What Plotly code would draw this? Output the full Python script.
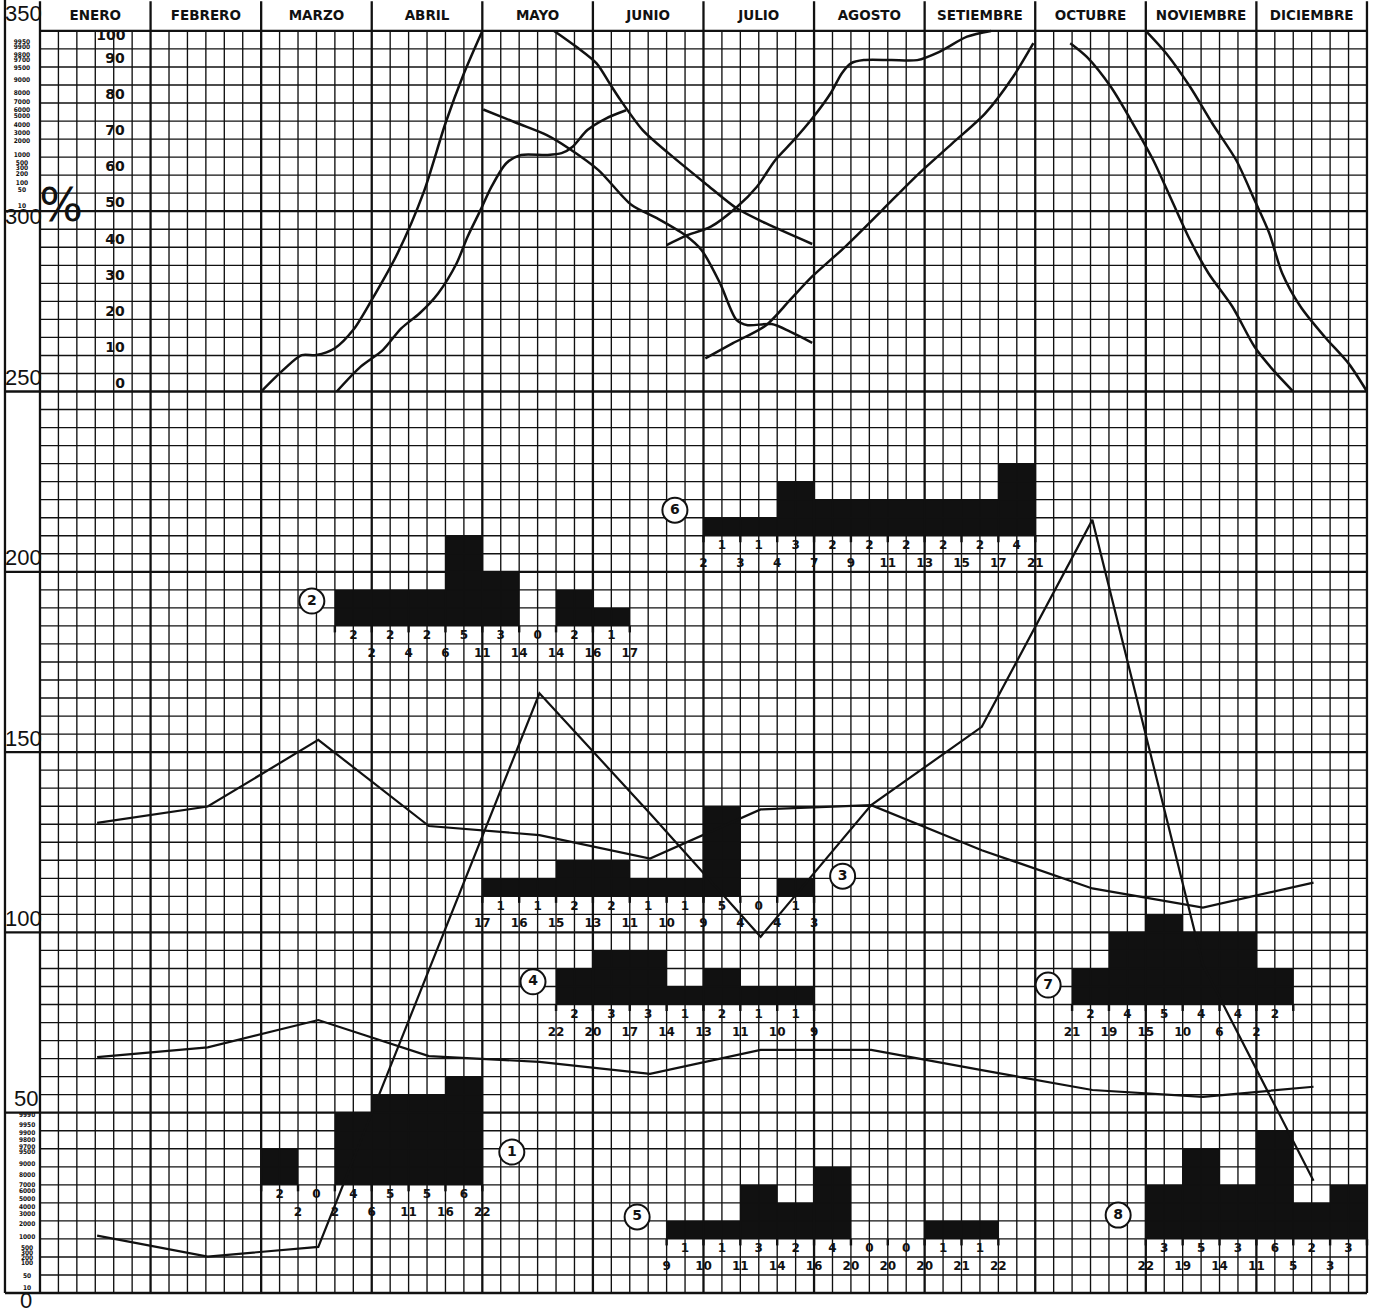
import plotly.graph_objects as go

# ---------------- DATA ----------------
MONTHS = ["ENERO", "FEBRERO", "MARZO", "ABRIL", "MAYO", "JUNIO",
          "JULIO", "AGOSTO", "SETIEMBRE", "OCTUBRE", "NOVIEMBRE", "DICIEMBRE"]

# main left scale
LEFT_SCALE = [350, 300, 250, 200, 150, 100, 50, 0]
# percentage scale (upper band)
PCT_TICKS = [100, 90, 80, 70, 60, 50, 40, 30, 20, 10, 0]

# probability-type scale labels (upper band, left column)
PROB_TOP_LABELS = ["9950", "9900", "9800", "9700", "9500", "9000", "8000", "7000", "6000",
                   "5000", "4000", "3000", "2000", "1000", "500", "300", "200", "100", "50", "10"]
PROB_TOP_POS = [346.9, 345.5, 343.3, 341.7, 339.5, 336.4, 332.8, 330.3, 328.1,
                326.2, 323.9, 321.7, 319.5, 315.6, 313.4, 312.0, 310.3, 307.8, 305.9, 301.4]
# probability-type scale labels (lower band, left column)
PROB_BOT_LABELS = ["9990", "9950", "9900", "9800", "9700", "9500", "9000", "8000", "7000", "6000",
                   "5000", "4000", "3000", "2000", "1000", "500", "300", "200", "100", "50", "10"]
PROB_BOT_POS = [49.4, 46.6, 44.4, 42.2, 40.5, 39.1, 35.8, 32.7, 29.9, 28.3,
                26.1, 23.8, 21.9, 18.9, 15.5, 12.5, 11.1, 9.7, 8.3, 4.7, 1.4]

# cumulative percentage curves (x in pentads, 6 per month; y in %)
CURVE_A_X = [12.0, 13.2, 14.2, 15.0, 16.0, 17.0, 18.0, 19.4, 20.8, 22.0, 23.0, 24.0]
CURVE_A_Y = [0, 6.0, 10.1, 10.1, 12.0, 17.1, 25.4, 38.3, 55.0, 74.4, 88.2, 100]

CURVE_B_X = [16.1, 17.4, 18.6, 19.6, 20.6, 21.6, 22.6, 23.2, 23.9, 24.5, 25.3, 26.1,
             27.5, 28.3, 28.9, 29.7, 30.7, 31.8]
CURVE_B_Y = [0, 6.9, 11.5, 17.5, 21.7, 27.2, 35.5, 42.9, 50.3, 56.8, 63.3, 65.6,
             65.6, 66.1, 67.9, 72.5, 75.7, 78.0]

CURVE_C_X = [24.05, 25.9, 27.5, 28.7, 30.3, 32.1, 33.5, 35.0, 35.9, 36.9, 37.8, 38.4,
             39.7, 40.7, 41.9]
CURVE_C_Y = [78.2, 74.4, 71.1, 67.4, 61.4, 51.7, 48.0, 43.4, 39.2, 30.0, 19.8, 18.4,
             18.7, 16.6, 13.5]

CURVE_D_X = [27.9, 29.1, 30.2, 30.9, 31.5, 32.7, 34.1, 36.1, 37.8, 39.4, 41.9]
CURVE_D_Y = [100, 95.6, 91.0, 85.5, 80.8, 72.5, 66.1, 57.7, 50.8, 46.6, 40.9]

CURVE_E_X = [34.0, 35.0, 36.4, 37.8, 38.9, 39.9, 40.9, 41.9, 42.9, 43.5, 44.0, 44.7,
             46.2, 47.6, 48.8, 50.3, 51.6]
CURVE_E_Y = [40.6, 43.1, 45.7, 51.1, 56.8, 64.2, 69.7, 75.7, 82.7, 88.2, 91.0, 91.9,
             91.9, 91.9, 94.2, 98.4, 100]

CURVE_F_X = [36.1, 37.6, 39.4, 40.7, 41.9, 43.7, 45.7, 47.7, 49.5, 51.3, 52.8, 53.9]
CURVE_F_Y = [9.2, 13.4, 18.4, 25.4, 31.9, 40.2, 50.3, 60.5, 68.8, 77.2, 87.3, 96.6]

CURVE_G_X = [55.9, 56.8, 58.1, 59.4, 60.4, 61.4, 62.4, 63.4, 64.7, 65.9, 66.9, 68.0]
CURVE_G_Y = [96.6, 92.8, 84.5, 73.4, 64.2, 53.1, 42.0, 32.8, 23.5, 12.4, 6.0, 0]

CURVE_H_X = [60.0, 61.1, 62.4, 63.6, 64.9, 65.9, 66.7, 67.4, 68.4, 69.7, 71.0, 72.0]
CURVE_H_Y = [100, 93.8, 84.5, 74.4, 64.2, 53.1, 43.9, 32.8, 23.5, 15.2, 7.8, 0]

# monthly polylines (main scale)
LINE_1 = [130.4, 134.9, 153.4, 129.5, 127.0, 120.5, 134.1, 135.3, 122.8, 112.2, 106.9, 113.8]
LINE_2 = [65.4, 68.1, 75.7, 65.7, 64.1, 60.8, 67.4, 67.4, 61.8, 56.3, 54.4, 57.2]
LINE_3 = [15.9, 10.1, 12.8, 89.5, 166.3, 133.0, 98.8, 135.3, 157.0, 214.4, 91.0, 31.1]

# histograms: counts per bar and cumulative labels
HIST1_COUNTS = [2, 0, 4, 5, 5, 6]
HIST1_CUM = [2, 2, 6, 11, 16, 22]
HIST2_COUNTS = [2, 2, 2, 5, 3, 0, 2, 1]
HIST2_CUM = [2, 4, 6, 11, 14, 14, 16, 17]
HIST3_COUNTS = [1, 1, 2, 2, 1, 1, 5, 0, 1]
HIST3_CUM = [17, 16, 15, 13, 11, 10, 9, 4, 4, 3]
HIST4_COUNTS = [2, 3, 3, 1, 2, 1, 1]
HIST4_CUM = [22, 20, 17, 14, 13, 11, 10, 9]
HIST5_COUNTS = [1, 1, 3, 2, 4, 0, 0, 1, 1]
HIST5_CUM = [9, 10, 11, 14, 16, 20, 20, 20, 21, 22]
HIST6_COUNTS = [1, 1, 3, 2, 2, 2, 2, 2, 4]
HIST6_CUM = [2, 3, 4, 7, 9, 11, 13, 15, 17, 21]
HIST7_COUNTS = [2, 4, 5, 4, 4, 2]
HIST7_CUM = [21, 19, 15, 10, 6, 2]
HIST8_COUNTS = [3, 5, 3, 6, 2, 3]
HIST8_CUM = [22, 19, 14, 11, 5, 3]

# ---------------- LAYOUT / STYLE ----------------
W, H = 1376, 1314
X_RANGE = [-2.17, 72.49]
Y_RANGE = [-5.82, 358.57]
PCT_BASE = 250          # 0 % sits on the 250 line, 100 % on the 350 line
INK = "#111111"
GRID_FINE = 1.35
GRID_THICK = 2.3
NUM_FONT = dict(family="DejaVu Sans", size=12, color=INK, weight="bold")

HISTS = [
    (HIST1_COUNTS, HIST1_CUM, dict(start=12, base=30, align="right", badge=(25.6, 39.1), n="1")),
    (HIST2_COUNTS, HIST2_CUM, dict(start=16, base=185, align="right", badge=(14.75, 191.9), n="2")),
    (HIST3_COUNTS, HIST3_CUM, dict(start=24, base=110, align="all", badge=(43.55, 115.6), n="3")),
    (HIST4_COUNTS, HIST4_CUM, dict(start=28, base=80, align="all", badge=(26.75, 86.3), n="4")),
    (HIST5_COUNTS, HIST5_CUM, dict(start=34, base=15, align="all", badge=(32.4, 21.1), n="5")),
    (HIST6_COUNTS, HIST6_CUM, dict(start=36, base=210, align="all", badge=(34.45, 217.1), n="6")),
    (HIST7_COUNTS, HIST7_CUM, dict(start=56, base=80, align="left", badge=(54.7, 85.4), n="7")),
    (HIST8_COUNTS, HIST8_CUM, dict(start=60, base=15, align="left", badge=(58.5, 21.6), n="8")),
]

fig = go.Figure()


def segments(segs, width, yaxis="y"):
    xs, ys = [], []
    for x0, y0, x1, y1 in segs:
        xs += [x0, x1, None]
        ys += [y0, y1, None]
    fig.add_trace(go.Scatter(x=xs, y=ys, mode="lines", yaxis=yaxis,
                             line=dict(color=INK, width=width),
                             hoverinfo="skip", showlegend=False))


def texts(xs, ys, labels, font, yaxis="y"):
    fig.add_trace(go.Scatter(x=xs, y=ys, text=labels, mode="text", yaxis=yaxis,
                             textfont=font, textposition="middle center",
                             hoverinfo="skip", showlegend=False))


# ---- grid ----
fine, thick = [], []
for c in range(0, 73):
    if c % 6 == 0:
        thick.append((c, 0, c, 358.2))
    else:
        fine.append((c, 0, c, 350))
for v in range(0, 351, 5):
    if v % 50 == 0:
        if v == 350:
            thick.append((0, v, 72, v))
        else:
            thick.append((-1.9, v, 72, v))
    else:
        fine.append((0, v, 72, v))
thick.append((-1.9, 0, -1.9, 358.6))
segments(fine, GRID_FINE)
segments(thick, GRID_THICK)

# ---- histograms ----
ticks = []
for counts, cum, cfg in HISTS:
    s, b = cfg["start"], cfg["base"]
    n = len(counts)
    centers = [s + 2 * i + 1 for i in range(n)]
    fig.add_trace(go.Bar(x=centers, y=[c * 5 for c in counts], base=b, width=2,
                         marker=dict(color=INK, line=dict(width=0)),
                         hoverinfo="skip", showlegend=False))
    edges = [s + 2 * i for i in range(n + 1)]
    ticks += [(e, b, e, b - 1.8) for e in edges]
    texts(centers, [b - 2.9] * n, [str(c) for c in counts], NUM_FONT)
    if cfg["align"] == "all":
        pos = edges
    elif cfg["align"] == "right":
        pos = edges[1:]
    else:
        pos = edges[:-1]
    texts(pos[:len(cum)], [b - 7.8] * len(cum), [str(c) for c in cum], NUM_FONT)
segments(ticks, 2.4)

# ---- monthly polylines ----
mid = [6 * i + 3.1 for i in range(12)]
for series in (LINE_1, LINE_2, LINE_3):
    fig.add_trace(go.Scatter(x=mid, y=series, mode="lines",
                             line=dict(color=INK, width=2.2),
                             hoverinfo="skip", showlegend=False))

# ---- cumulative % curves (secondary axis: percent) ----
for cx, cy in [(CURVE_A_X, CURVE_A_Y), (CURVE_B_X, CURVE_B_Y), (CURVE_C_X, CURVE_C_Y),
               (CURVE_D_X, CURVE_D_Y), (CURVE_E_X, CURVE_E_Y), (CURVE_F_X, CURVE_F_Y),
               (CURVE_G_X, CURVE_G_Y), (CURVE_H_X, CURVE_H_Y)]:
    fig.add_trace(go.Scatter(x=cx, y=cy, mode="lines", yaxis="y2",
                             line=dict(color=INK, width=2.5, shape="spline", smoothing=0.8),
                             hoverinfo="skip", showlegend=False))

# ---- badges ----
for counts, cum, cfg in HISTS:
    bx, by = cfg["badge"]
    fig.add_trace(go.Scatter(x=[bx], y=[by], mode="markers+text", text=[cfg["n"]],
                             marker=dict(symbol="circle", size=25, color="white",
                                         line=dict(color=INK, width=2)),
                             textfont=dict(family="DejaVu Sans", size=14, color=INK, weight="bold"),
                             textposition="middle center",
                             hoverinfo="skip", showlegend=False))

# ---- header month names ----
texts([6 * i + 3 for i in range(12)], [354.0] * 12, MONTHS,
      dict(family="DejaVu Sans", size=13.5, color=INK, weight="bold"))

# ---- left scale labels ----
left_offsets = {350: 4.4, 300: -1.9, 0: -2.6}
texts([-0.9 if v >= 100 else -0.75 for v in LEFT_SCALE],
      [v + left_offsets.get(v, 3.3) for v in LEFT_SCALE],
      [str(v) for v in LEFT_SCALE],
      dict(family="Liberation Sans Narrow, Liberation Sans", size=22, color=INK))

# ---- percent scale labels ----
texts([3.85 if p == 100 else (4.35 if p == 0 else 4.07) for p in PCT_TICKS],
      [p + (-1.5 if p == 100 else 2.0) for p in PCT_TICKS],
      [str(p) for p in PCT_TICKS],
      dict(family="DejaVu Sans", size=14, color=INK, weight="bold"), yaxis="y2")
texts([1.15], [50.5], ["%"], dict(family="DejaVu Sans", size=46, color=INK), yaxis="y2")

# ---- probability scale labels ----
small = dict(family="DejaVu Sans Condensed, DejaVu Sans", size=6.5, color=INK, weight="bold")
texts([-0.98] * len(PROB_TOP_LABELS), PROB_TOP_POS, PROB_TOP_LABELS, small)
texts([-0.7] * len(PROB_BOT_LABELS), PROB_BOT_POS, PROB_BOT_LABELS, small)

fig.update_layout(
    width=W, height=H,
    margin=dict(l=0, r=0, t=0, b=0),
    paper_bgcolor="white", plot_bgcolor="white",
    barmode="overlay", bargap=0,
    showlegend=False,
    xaxis=dict(range=X_RANGE, visible=False, fixedrange=True),
    yaxis=dict(range=Y_RANGE, visible=False, fixedrange=True),
    yaxis2=dict(range=[Y_RANGE[0] - PCT_BASE, Y_RANGE[1] - PCT_BASE], overlaying="y",
                visible=False, fixedrange=True),
)

fig.write_html("out.html", config={"displayModeBar": False},
               post_script="document.body.style.margin='0';document.body.style.overflow='hidden';")
